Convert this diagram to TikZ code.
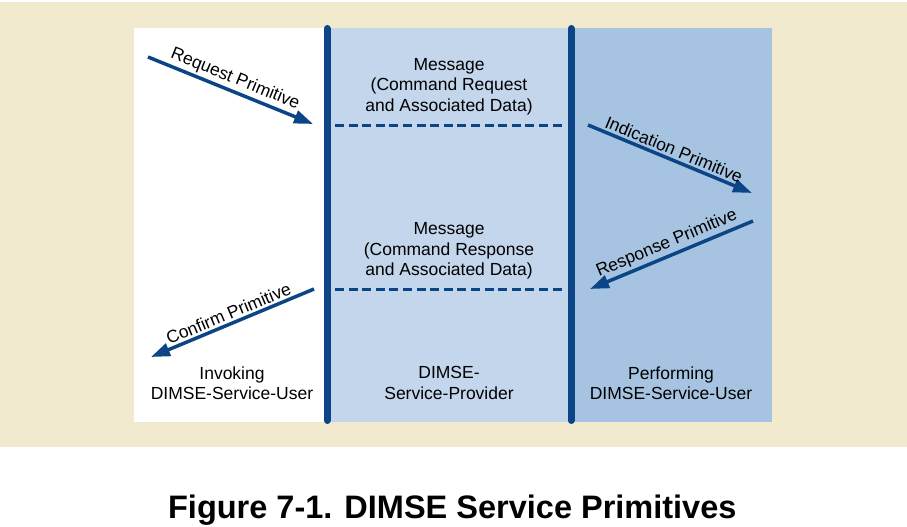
\documentclass[tikz,border=0pt]{standalone}
\usepackage{fontspec}
\setmainfont{Liberation Sans}
\usetikzlibrary{arrows.meta}
\definecolor{beige}{HTML}{F2EACF}
\definecolor{panelA}{HTML}{C3D6EC}
\definecolor{panelB}{HTML}{A6C4E1}
\definecolor{navy}{HTML}{0B4585}
\tikzset{
  body/.style={font=\fontsize{17.5}{20.5}\selectfont, text=black, inner sep=0pt, outer sep=0pt},
  blocktext/.style={body, align=center, anchor=north},
  lifeline/.style={draw=navy, line width=7pt, line cap=round},
  msgline/.style={draw=navy, line width=3pt, dash pattern=on 9pt off 4.6pt},
  prim/.style={draw=navy, line width=3.5pt, -{Triangle[length=19pt,width=13pt]}},
  primlbl/.style={body, sloped, above=4pt, midway}
}
\begin{document}
\begin{tikzpicture}[x=1pt,y=-1pt]
\useasboundingbox (0,0) rectangle (907,527);
% backgrounds
\fill[beige] (0,2) rectangle (907,447);
\fill[white] (134,28) rectangle (327,422);
\fill[panelA] (327,28) rectangle (571,422);
\fill[panelB] (571,28) rectangle (772,422);
% life lines
\coordinate (l1t) at (327,28.5); \coordinate (l1b) at (327,420.5);
\coordinate (l2t) at (571,28.5); \coordinate (l2b) at (571,420.5);
\draw[lifeline] (l1t) -- (l1b);
\draw[lifeline] (l2t) -- (l2b);
% message dashed lines
\coordinate (m1s) at (335,125); \coordinate (m1e) at (565,125);
\coordinate (m2s) at (335,289); \coordinate (m2e) at (565,289);
\draw[msgline] (m1s) -- (m1e);
\draw[msgline] (m2s) -- (m2e);
\node[blocktext] (msg1) at (449,58.3) {Message\\(Command Request\\and Associated Data)};
\node[blocktext] (msg2) at (449,222.6) {Message\\(Command Response\\and Associated Data)};
% primitives
\coordinate (reqS) at (148,57); \coordinate (reqE) at (313,124);
\coordinate (indS) at (588,125); \coordinate (indE) at (752,193);
\coordinate (resS) at (753,221); \coordinate (resE) at (590,289);
\coordinate (conS) at (314,289); \coordinate (conE) at (151,357);
\draw[prim] (reqS) -- (reqE);
\draw[prim] (indS) -- (indE);
\draw[prim] (resS) -- (resE);
\draw[prim] (conS) -- (conE);
\path (reqS) -- node[primlbl] (reqL) {Request Primitive} (reqE);
\path (indS) -- node[primlbl] (indL) {Indication Primitive} (indE);
\path (resE) -- node[primlbl] (resL) {Response Primitive} (resS);
\path (conE) -- node[primlbl] (conL) {Confirm Primitive} (conS);
% bottom labels
\node[blocktext] (inv) at (232,366.7) {Invoking\\DIMSE-Service-User};
\node[blocktext] (prov) at (449,366.7) {DIMSE-\\Service-Provider};
\node[blocktext] (perf) at (671,366.7) {Performing\\DIMSE-Service-User};
% caption
\node[font=\fontsize{32.5}{38}\selectfont\bfseries, inner sep=0pt, anchor=base] (cap) at (452.3,518.6) {Figure 7-1. DIMSE Service Primitives};
\end{tikzpicture}
\end{document}
